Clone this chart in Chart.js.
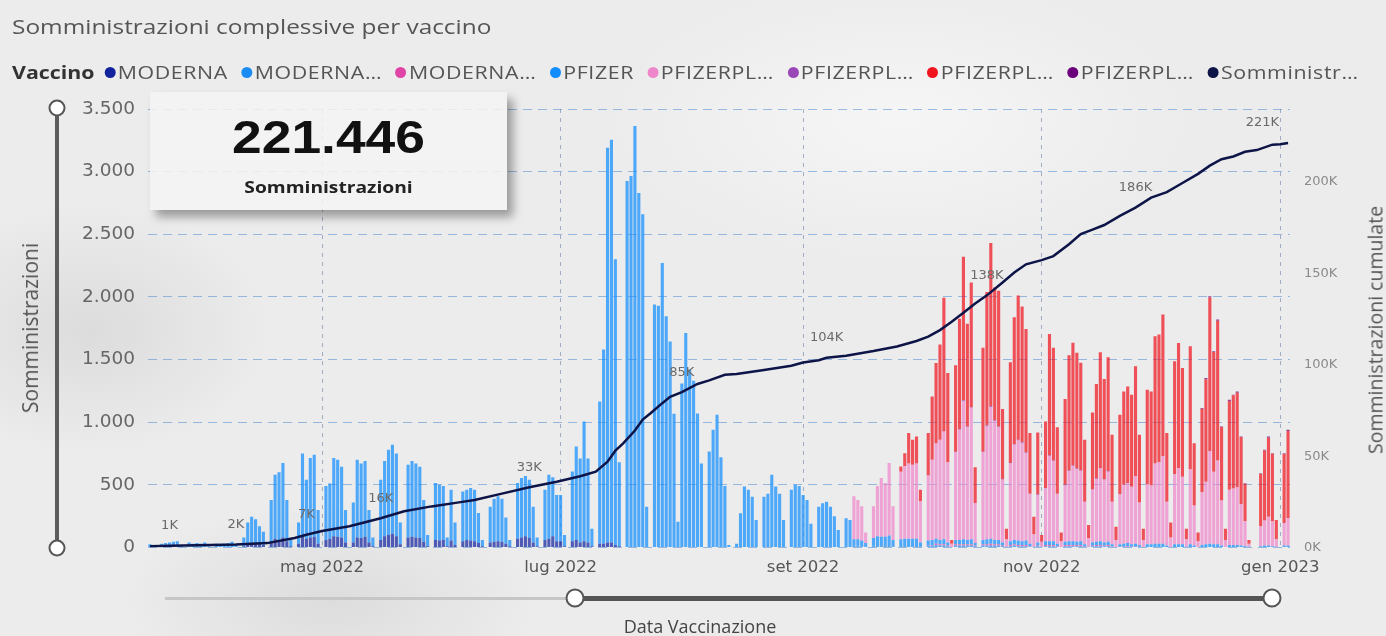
<!DOCTYPE html>
<html lang="it">
<head>
<meta charset="utf-8">
<title>Somministrazioni complessive per vaccino</title>
<script src="https://cdn.jsdelivr.net/npm/chart.js@4.4.1/dist/chart.umd.min.js"></script>
<style>
  html, body { margin: 0; padding: 0; }
  body {
    width: 1386px; height: 636px; position: relative; overflow: hidden;
    font-family: 'Open Sans', sans-serif; color: #555;
    background:
      radial-gradient(ellipse 260px 180px at 90px 330px, rgba(200,200,200,0.45), rgba(200,200,200,0) 70%),
      radial-gradient(ellipse 300px 140px at 330px 600px, rgba(205,205,205,0.5), rgba(205,205,205,0) 70%),
      radial-gradient(ellipse 420px 200px at 900px 120px, rgba(255,255,255,0.5), rgba(255,255,255,0) 70%),
      #ececec;
  }
  #chart { position: absolute; left: 0; top: 0; }
  #title { position: absolute; left: 12px; top: 13px; font-size: 20px; color: #555; white-space: nowrap;
    transform: scaleX(1.22); transform-origin: left center; }
  #legend { position: absolute; left: 12px; top: 60px; display: flex; align-items: center; font-size: 17.5px; white-space: nowrap;
    transform: scaleX(1.22); transform-origin: left center; }
  #legend b { color: #333; margin-right: 8px; }
  #legend .item { display: flex; align-items: center; margin-right: 11px; color: #555; letter-spacing: 0.5px; }
  #legend .dot { width: 9px; height: 11px; border-radius: 50%; margin-right: 2px; }
  .axis-title { position: absolute; transform: translate(-50%, -50%) rotate(-90deg); white-space: nowrap; color: #555; }
  #ytitle { left: 30px; top: 328px; font-size: 21px; }
  #y2title { left: 1375px; top: 330px; font-size: 19.5px; }
  #xtitle { position: absolute; left: 700px; top: 626px; transform: translate(-50%, -50%); font-size: 18px; color: #444; white-space: nowrap; }
  .knob { position: absolute; width: 13px; height: 13px; border-radius: 50%; background: #fff; border: 2.5px solid #555; transform: translate(-50%, -50%); }
  #vtrack { position: absolute; left: 55px; top: 108px; width: 4px; height: 440px; background: #5c5c5c; }
  #htrack1 { position: absolute; left: 165px; top: 597px; width: 410px; height: 3px; background: #c6c6c6; }
  #htrack2 { position: absolute; left: 575px; top: 596px; width: 697px; height: 5px; background: #555; }
  #kpi {
    position: absolute; left: 150px; top: 92px; width: 357px; height: 118px;
    background: rgba(243,243,243,0.86); box-shadow: 6px 7px 9px rgba(0,0,0,0.35);
    text-align: center;
  }
  #kpi .value { position: absolute; left: 0; right: 0; top: 22px; font-family: 'Liberation Sans', sans-serif; font-weight: bold;
    font-size: 46px; color: #111; line-height: 1; transform: scaleX(1.16); }
  #kpi .label { position: absolute; left: 0; right: 0; top: 84px; font-weight: bold; font-size: 16px; color: #222; transform: scaleX(1.2); }
</style>
</head>
<body>
<canvas id="chart" width="1386" height="636"></canvas>
<div id="title">Somministrazioni complessive per vaccino</div>
<div id="legend"><b>Vaccino</b></div>
<div id="vtrack"></div>
<div class="knob" style="left:57px;top:108px"></div>
<div class="knob" style="left:57px;top:548px"></div>
<div class="axis-title" id="ytitle">Somministrazioni</div>
<div class="axis-title" id="y2title">Somministrazioni cumulate</div>
<div id="kpi"><div class="value">221.446</div><div class="label">Somministrazioni</div></div>
<div id="htrack1"></div>
<div id="htrack2"></div>
<div class="knob" style="left:575px;top:598px;width:15px;height:15px"></div>
<div class="knob" style="left:1272px;top:598px;width:15px;height:15px"></div>
<div id="xtitle">Data Vaccinazione</div>
<script>
// giorni del grafico
var startDate = '2022-03-18';
var dayCount = 292;

// etichette dell'asse x
var monthTickDates = ['2022-05-01', '2022-07-01', '2022-09-01', '2022-11-01', '2023-01-01'];
var monthTickText = ['mag 2022', 'lug 2022', 'set 2022', 'nov 2022', 'gen 2023'];
var leftTicks = [0, 500, 1000, 1500, 2000, 2500, 3000, 3500];
var rightTicks = [0, 50000, 100000, 150000, 200000];

// somministrazioni giornaliere per vaccino (una riga = una settimana lun-dom)
var modernaStart = '2022-04-11';
var moderna = [
  10, 30, 40, 35, 30, 20, 0,
  50, 70, 60, 80, 50, 10, 0,
  30, 90, 70, 80, 85, 30, 0,
  60, 70, 90, 85, 80, 40, 0,
  40, 80, 75, 85, 40, 10, 0,
  60, 90, 100, 110, 90, 25, 0,
  80, 85, 80, 75, 45, 10, 0,
  60, 55, 60, 10, 55, 20, 0,
  50, 60, 55, 50, 35, 10, 0,
  40, 45, 50, 45, 30, 10, 0,
  70, 80, 90, 75, 40, 10, 0,
  60, 70, 90, 50, 50, 10, 0,
  50, 60, 40, 50, 40, 10, 0,
  30, 30, 40, 40, 20, 10, 0
];

var modernaBA1Start = '2022-09-14';
var modernaBA1 = [
  15, 15, 10, 5, 0,
  15, 20, 20, 20, 20, 10, 0,
  20, 20, 20, 20, 20, 10, 0,
  15, 15, 20, 15, 15, 10, 0,
  15, 15, 15, 15, 15, 10, 0,
  15, 15, 15, 15, 15, 10, 0,
  10, 15, 10, 10, 10, 5, 0,
  10, 0, 10, 10, 10, 5, 0,
  10, 10, 10, 10, 10, 5, 0,
  10, 10, 10, 10, 10, 5, 0
];

var modernaBA45Start = '2022-10-03';
var modernaBA45 = [
  5, 5, 10, 10, 10, 5, 0,
  10, 10, 10, 10, 10, 5, 0,
  10, 10, 15, 10, 10, 5, 0,
  10, 10, 10, 10, 10, 5, 0,
  5, 0, 10, 10, 10, 5, 0,
  10, 10, 10, 10, 10, 5, 0,
  5, 10, 10, 5, 10, 5, 0,
  5, 5, 10, 5, 5, 5, 0
];

var pfizerStart = '2022-03-18';
var pfizer = [
  25, 10, 0,
  30, 35, 40, 45, 50, 15, 0,
  40, 30, 35, 30, 40, 10, 0,
  30, 25, 30, 35, 45, 20, 0,
  70, 170, 205, 190, 140, 105, 0,
  330, 510, 540, 595, 330, 50, 0,
  170, 660, 470, 635, 655, 270, 0,
  430, 440, 625, 615, 565, 260, 0,
  320, 620, 595, 605, 260, 70, 0,
  480, 600, 680, 710, 660, 175, 0,
  580, 605, 590, 570, 335, 90, 0,
  455, 445, 430, 70, 405, 180, 0,
  396, 400, 420, 410, 240, 50, 0,
  286, 345, 360, 345, 210, 50, 0,
  445, 475, 480, 465, 285, 70, 0,
  400, 510, 470, 370, 370, 90, 0,
  556, 746, 670, 955, 670, 140, 0,
  1135, 1550, 3150, 3215, 2280, 670, 0,
  2925, 2965, 3365, 2830, 2660, 326, 0,
  1940, 1930, 2270, 1845, 1645, 1067, 206,
  1310, 1713, 1420, 1330, 1070, 670, 0,
  766, 940, 1060, 720, 490, 20, 0,
  30, 273, 486, 460, 406, 220, 0,
  406, 430, 580, 486, 430, 220, 0,
  460, 500, 490, 420, 380, 190, 0,
  326, 353, 366, 326, 250, 140, 0,
  233, 220, 50, 50, 45, 30, 0,
  60, 70, 65, 65, 75, 50, 0,
  45, 50, 50, 50, 50, 30, 0,
  35, 40, 40, 35, 40, 25, 0,
  35, 35, 40, 35, 40, 20, 0,
  35, 40, 40, 35, 35, 25, 5,
  30, 35, 35, 30, 35, 20, 5,
  25, 5, 30, 30, 30, 20, 0,
  25, 30, 30, 25, 30, 15, 5,
  25, 25, 30, 25, 25, 15, 0,
  20, 25, 25, 20, 25, 15, 0,
  25, 25, 30, 30, 30, 15, 0,
  25, 25, 25, 5, 25, 15, 0,
  20, 25, 30, 25, 25, 15, 0,
  20, 20, 20, 15, 10, 5, 0,
  0, 10, 15, 15, 10, 5, 0,
  15, 15
];

var pfizerBA1Start = '2022-09-14';
var pfizerBA1 = [
  345, 315, 275, 85, 0,
  255, 400, 470, 430, 580, 270, 0,
  540, 580, 600, 590, 600, 330, 0,
  520, 640, 760, 800, 860, 640, 30,
  700, 880, 1100, 900, 1050, 320, 0,
  700, 900, 1050, 950, 900, 500, 60,
  620, 760, 800, 780, 700, 400, 100,
  380, 40, 420, 680, 640, 400, 50,
  450, 560, 600, 580, 560, 340, 70,
  420, 500, 580, 500, 560, 340, 60,
  400, 470, 480, 460, 540, 340, 60,
  480, 470, 640, 650, 700, 350, 80,
  560, 610, 540, 60, 600, 320, 50,
  420, 500, 740, 580, 670, 360, 60,
  440, 450, 460, 330, 200, 25, 0,
  0, 160, 200, 230, 200, 60, 0,
  180, 220
];

var pfizerPedStart = '2022-10-10';
var pfizerPed = [
  5, 5, 10, 5, 5, 0, 0,
  5, 10, 10, 5, 5, 5, 0,
  5, 5, 5, 10, 5, 0, 0,
  5, 0, 5, 5, 5, 0, 0,
  5, 5, 5, 5, 5, 0, 0,
  5, 5, 5, 5, 5, 0, 0
];

var pfizerBA45Start = '2022-09-26';
var pfizerBA45 = [
  41, 103, 243, 200, 216, 90, 0,
  338, 506, 643, 760, 1068, 713, 30,
  690, 880, 1145, 820, 995, 285, 0,
  830, 1065, 1300, 1060, 1085, 560, 85,
  803, 1013, 1151, 1083, 985, 483, 141,
  493, 55, 530, 970, 900, 530, 70,
  685, 920, 980, 925, 860, 495, 105,
  613, 755, 923, 800, 908, 535, 106,
  635, 746, 771, 735, 876, 540, 90,
  755, 751, 1016, 1020, 1130, 548, 120,
  901, 998, 868, 85, 981, 498, 70,
  668, 818, 1226, 956, 1115, 586, 90,
  710, 745, 756, 536, 298, 30, 0,
  0, 418, 560, 631, 538, 155, 0,
  553, 695
];

var pfizerPedBA45Start = '2022-12-12';
var pfizerPedBA45 = [
  5, 10, 10, 5, 10, 5, 0,
  10, 5, 10, 5, 5, 0, 0,
  0, 5, 5, 10, 5, 0, 0,
  5, 10
];

var cumDates = [
  '2022-03-18', '2022-03-23', '2022-03-30', '2022-04-09', '2022-04-17', '2022-04-24', '2022-04-27',
  '2022-05-01', '2022-05-08', '2022-05-16', '2022-05-22', '2022-05-29', '2022-06-05', '2022-06-09',
  '2022-06-16', '2022-06-23', '2022-06-30', '2022-07-06', '2022-07-10', '2022-07-13', '2022-07-15',
  '2022-07-17', '2022-07-20', '2022-07-22', '2022-07-24', '2022-07-27', '2022-07-29', '2022-08-01',
  '2022-08-05', '2022-08-08', '2022-08-12', '2022-08-15', '2022-08-22', '2022-08-29', '2022-09-01',
  '2022-09-05', '2022-09-07', '2022-09-12', '2022-09-19', '2022-09-25', '2022-09-30', '2022-10-03',
  '2022-10-06', '2022-10-09', '2022-10-12', '2022-10-15', '2022-10-18', '2022-10-22', '2022-10-25',
  '2022-10-28', '2022-11-01', '2022-11-04', '2022-11-08', '2022-11-11', '2022-11-14', '2022-11-17',
  '2022-11-21', '2022-11-25', '2022-11-29', '2022-12-03', '2022-12-07', '2022-12-11', '2022-12-14',
  '2022-12-17', '2022-12-20', '2022-12-23', '2022-12-26', '2022-12-30', '2023-01-01', '2023-01-03'
];
var cumValues = [
  700, 950, 1200, 1600, 2400, 5200, 7000,
  9000, 11600, 16000, 19800, 22500, 24700, 26000,
  29500, 33000, 36000, 39000, 41500, 47000, 53000,
  57000, 64000, 70000, 73500, 79000, 82500, 85000,
  89500, 91500, 94500, 95000, 97200, 99500, 101200,
  102500, 103800, 105000, 107500, 110000, 113000, 115400,
  119000, 123500, 128500, 133500, 138000, 145000, 150500,
  155000, 157300, 159500, 166000, 171500, 174000, 176500,
  181500, 186000, 191500, 194500, 199500, 204500, 209000,
  212500, 214000, 216600, 217500, 220500, 220700, 221446
];
var cumLabelDates = ['2022-03-23', '2022-04-09', '2022-04-27', '2022-05-16', '2022-06-23',
  '2022-08-01', '2022-09-07', '2022-10-18', '2022-11-25', '2023-01-03'];

var seriesNames = ['MODERNA', 'MODERNA…', 'MODERNA…', 'PFIZER', 'PFIZERPL…', 'PFIZERPL…', 'PFIZERPL…', 'PFIZERPL…'];
var seriesColors = ['#12239E', '#1B8CF2', '#E044A7', '#118DFF', '#EE86CB', '#9A47B8', '#F0141E', '#6B007B'];
var lineName = 'Somministr…';
var lineColor = '#0D1447';

var days = [];
var t0 = Date.parse(startDate + 'T00:00:00Z');
for (var i = 0; i < dayCount; i++) {
  days.push(new Date(t0 + i * 86400000).toISOString().slice(0, 10));
}

function placeFrom(start, values) {
  var out = [];
  for (var i = 0; i < dayCount; i++) out.push(null);
  var at = days.indexOf(start);
  values.forEach(function (v, k) { out[at + k] = v; });
  return out;
}

function alpha(hex, a) {
  var n = parseInt(hex.slice(1), 16);
  return 'rgba(' + (n >> 16) + ',' + ((n >> 8) & 255) + ',' + (n & 255) + ',' + a + ')';
}

function thousands(v) {
  return String(v).replace(/\B(?=(\d{3})+(?!\d))/g, '.');
}

var barData = [
  placeFrom(modernaStart, moderna),
  placeFrom(modernaBA1Start, modernaBA1),
  placeFrom(modernaBA45Start, modernaBA45),
  placeFrom(pfizerStart, pfizer),
  placeFrom(pfizerBA1Start, pfizerBA1),
  placeFrom(pfizerPedStart, pfizerPed),
  placeFrom(pfizerBA45Start, pfizerBA45),
  placeFrom(pfizerPedBA45Start, pfizerPedBA45)
];

var cumLine = days.map(function (d) {
  var k = cumDates.indexOf(d);
  return k < 0 ? null : cumValues[k];
});

// legenda html
var legend = document.getElementById('legend');
seriesNames.concat([lineName]).forEach(function (name, k) {
  var item = document.createElement('div');
  item.className = 'item';
  var dot = document.createElement('span');
  dot.className = 'dot';
  dot.style.background = k < seriesColors.length ? seriesColors[k] : lineColor;
  item.appendChild(dot);
  item.appendChild(document.createTextNode(name));
  legend.appendChild(item);
});

var datasets = barData.map(function (data, k) {
  return {
    type: 'bar',
    label: seriesNames[k],
    data: data,
    backgroundColor: alpha(seriesColors[k], 0.72),
    borderWidth: 0,
    barPercentage: 0.8,
    categoryPercentage: 1,
    yAxisID: 'y',
    stack: 'vaccini',
    order: 1
  };
});
datasets.push({
  type: 'line',
  label: lineName,
  data: cumLine,
  borderColor: lineColor,
  borderWidth: 2.5,
  pointRadius: 0,
  spanGaps: true,
  tension: 0,
  yAxisID: 'y2',
  order: 0
});

// etichette dei valori sulla linea cumulata
var lineLabels = {
  id: 'lineLabels',
  afterDatasetsDraw: function (chart) {
    var li = chart.data.datasets.length - 1;
    var meta = chart.getDatasetMeta(li);
    var ctx = chart.ctx;
    ctx.save();
    ctx.font = '13px "DejaVu Sans", sans-serif';
    ctx.fillStyle = '#6a6a6a';
    ctx.textAlign = 'center';
    ctx.textBaseline = 'middle';
    cumLabelDates.forEach(function (d) {
      var i = days.indexOf(d);
      var pt = meta.data[i];
      var v = chart.data.datasets[li].data[i];
      var text = Math.round(v / 1000) + 'K';
      var w = ctx.measureText(text).width;
      var x = pt.x;
      if (x + w / 2 > chart.chartArea.right - 2) x = pt.x - w / 2 - 9;
      ctx.fillText(text, x, pt.y - 20);
    });
    ctx.restore();
  }
};

Chart.defaults.font.family = "'DejaVu Sans', sans-serif";

new Chart(document.getElementById('chart'), {
  data: { labels: days, datasets: datasets },
  options: {
    responsive: false,
    animation: false,
    devicePixelRatio: 1,
    layout: { padding: { top: 109, left: 0, right: 0, bottom: 0 } },
    plugins: { legend: { display: false }, tooltip: { enabled: false } },
    scales: {
      x: {
        stacked: true,
        offset: true,
        afterFit: function (s) { s.height = 88.5; },
        grid: {
          offset: false,
          drawTicks: false,
          lineWidth: 1,
          color: function (c) {
            return monthTickDates.indexOf(days[c.index]) >= 0 ? 'rgba(120,140,170,0.65)' : 'rgba(0,0,0,0)';
          }
        },
        border: { display: false, dash: [4, 5] },
        ticks: {
          autoSkip: false,
          maxRotation: 0,
          minRotation: 0,
          padding: 10,
          color: '#555',
          font: { size: 16.5 },
          callback: function (value, index) {
            var k = monthTickDates.indexOf(days[index]);
            return k < 0 ? '' : monthTickText[k];
          }
        }
      },
      y: {
        stacked: true,
        position: 'left',
        min: 0,
        max: 3500,
        afterFit: function (s) { s.width = 148; },
        afterBuildTicks: function (s) { s.ticks = leftTicks.map(function (v) { return { value: v }; }); },
        grid: { color: 'rgba(80,140,210,0.55)', lineWidth: 1, drawTicks: false },
        border: { display: false, dash: [9, 6] },
        ticks: {
          padding: 13,
          color: '#666',
          font: { size: 18.5 },
          callback: function (v) { return thousands(v); }
        }
      },
      y2: {
        position: 'right',
        min: 0,
        max: 240000,
        afterFit: function (s) { s.width = 96; },
        afterBuildTicks: function (s) { s.ticks = rightTicks.map(function (v) { return { value: v }; }); },
        grid: { display: false },
        border: { display: false },
        ticks: {
          padding: 6,
          color: '#8a8a8a',
          font: { size: 13 },
          callback: function (v) { return (v / 1000) + 'K'; }
        }
      }
    }
  },
  plugins: [lineLabels]
});
</script>
</body>
</html>
